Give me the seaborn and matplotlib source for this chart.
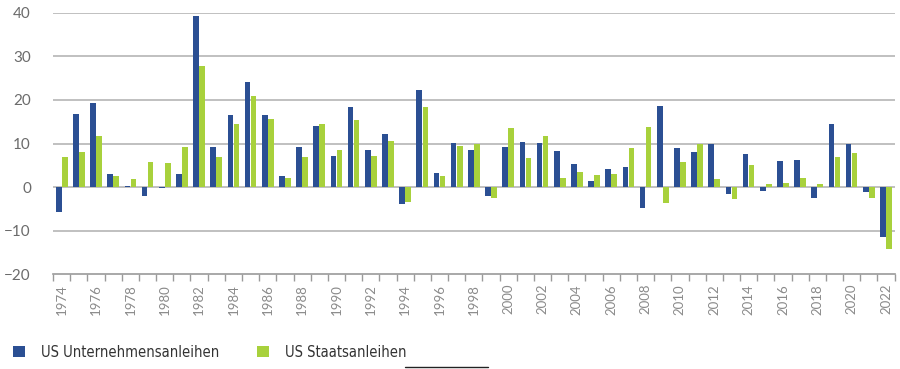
import numpy as np
import pandas as pd
import seaborn as sns
import matplotlib.pyplot as plt
from matplotlib.lines import Line2D
from matplotlib.patches import Patch

years = list(range(1974, 2023))
corporate = [-5.8, 16.7, 19.4, 3.1, 0.3, -2.0, -0.3, 3.0, 39.2, 9.3,
             16.6, 24.1, 16.5, 2.5, 9.2, 14.1, 7.1, 18.5, 8.6, 12.2,
             -3.9, 22.3, 3.2, 10.1, 8.5, -2.0, 9.1, 10.3, 10.1, 8.2,
             5.4, 1.5, 4.2, 4.5, -4.9, 18.7, 9.0, 8.1, 9.9, -1.6,
             7.5, -0.8, 6.1, 6.3, -2.5, 14.5, 10.0, -1.1, -11.5]
treasury = [7.0, 8.0, 11.8, 2.5, 1.9, 5.7, 5.5, 9.2, 27.9, 7.0,
            14.5, 21.0, 15.7, 2.0, 7.0, 14.4, 8.5, 15.4, 7.2, 10.6,
            -3.4, 18.4, 2.6, 9.5, 9.9, -2.6, 13.5, 6.7, 11.8, 2.2,
            3.5, 2.7, 3.0, 9.0, 13.7, -3.6, 5.8, 9.9, 1.8, -2.8,
            5.0, 0.8, 0.9, 2.2, 0.8, 6.8, 7.9, -2.4, -14.2]
series_names = ["US Unternehmensanleihen", "US Staatsanleihen"]
colors = ["#2b4f93", "#a8d13c"]

df = pd.DataFrame({
    "Jahr": [str(y) for y in years] * 2,
    "Rendite": corporate + treasury,
    "Serie": [series_names[0]] * len(years) + [series_names[1]] * len(years),
})

sns.set_style("white")
plt.rcParams["font.family"] = ["Lato", "DejaVu Sans"]

fig = plt.figure(figsize=(9, 3.69), dpi=100)
ax = fig.add_axes([0.059, 0.257, 0.935, 0.708])

ax.set_axisbelow(True)
for v in [-10, 0, 10, 20, 30, 40]:
    ax.axhline(v, color="#b5b5b5", linewidth=1.2, zorder=0)

sns.barplot(data=df, x="Jahr", y="Rendite", hue="Serie", palette=colors,
            width=0.7, gap=0.06, saturation=1, legend=False, ax=ax,
            edgecolor="none", linewidth=0)

n = len(years)
ax.set_xlim(-0.5, n - 0.5)
ax.set_ylim(-20, 40)
ax.set_yticks([-20, -10, 0, 10, 20, 30, 40])
ax.tick_params(axis="y", length=0, labelsize=11, labelcolor="#6b6b6b", pad=16)

ax.set_xticks(range(0, n, 2))
ax.set_xticklabels([str(y) for y in years[::2]], rotation=90)
ax.set_xticks(np.arange(-0.5, n, 1), minor=True)
ax.tick_params(axis="x", which="major", length=0, labelsize=9.5, labelcolor="#8a8a8a", pad=7)
ax.tick_params(axis="x", which="minor", length=5, width=1, color="#9a9a9a", bottom=True)
ax.set_xlabel("")
ax.set_ylabel("")

for s in ["left", "right", "top"]:
    ax.spines[s].set_visible(False)
ax.spines["bottom"].set_color("#9a9a9a")
ax.spines["bottom"].set_linewidth(1.2)

handles = [Patch(facecolor=c, edgecolor="none") for c in colors]
fig.legend(handles, series_names, loc="lower left", bbox_to_anchor=(0.0, -0.01),
           ncol=2, frameon=False, handlelength=0.8, handleheight=0.8,
           columnspacing=2.6, handletextpad=1.1, labelcolor="#333333",
           prop={"family": ["DejaVu Sans"], "stretch": "condensed", "size": 10.5})

fig.add_artist(Line2D([0.45, 0.542], [0.006, 0.006], color="#222222", linewidth=1))

fig.savefig("out.png", dpi=100)
